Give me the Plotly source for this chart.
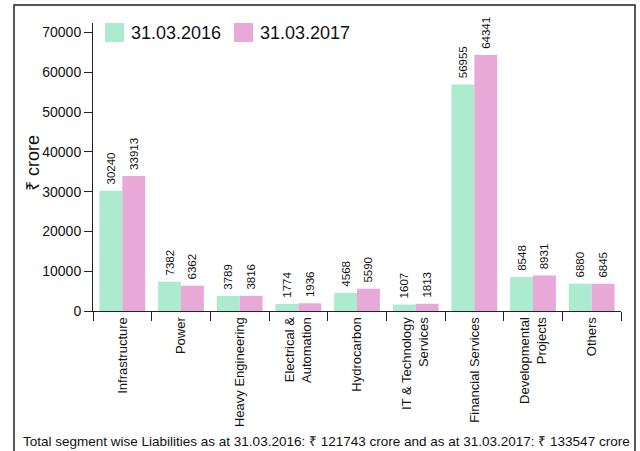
import plotly.graph_objects as go

categories = [
    "Infrastructure", "Power", "Heavy Engineering", "Electrical &<br>Automation",
    "Hydrocarbon", "IT & Technology<br>Services", "Financial Services",
    "Developmental<br>Projects", "Others",
]
values_2016 = [30240, 7382, 3789, 1774, 4568, 1607, 56955, 8548, 6880]
values_2017 = [33913, 6362, 3816, 1936, 5590, 1813, 64341, 8931, 6845]
series_names = ["31.03.2016", "31.03.2017"]
y_ticks = [0, 10000, 20000, 30000, 40000, 50000, 60000, 70000]
y_tick_labels = [str(v) for v in y_ticks]
y_title = "₹ crore"
caption = ("Total segment wise Liabilities as at 31.03.2016: ₹ 121743 crore "
           "and as at 31.03.2017: ₹ 133547 crore")

W, H = 640, 451
L, R, T, B = 93, 19, 23, 140
PW, PH = W - L - R, H - T - B

def px(x):
    return (x - L) / PW

def py(y):
    return (H - B - y) / PH

GREEN = "#ADEBD0"
PINK = "#E8A8D8"
REG = "Liberation Sans, Arial, sans-serif"
NAR = "Liberation Sans Narrow, Liberation Sans, Arial, sans-serif"

fig = go.Figure()
for name, vals, col in [(series_names[0], values_2016, GREEN), (series_names[1], values_2017, PINK)]:
    fig.add_trace(go.Bar(
        x=categories, y=vals, name=name, marker_color=col, marker_line_width=0,
        text=["\u00a0" + str(v) for v in vals], textposition="outside", textangle=-90,
        textfont=dict(family=NAR, size=11.5, color="#111"),
        constraintext="none", cliponaxis=False, showlegend=False,
    ))

shapes = [
    dict(type="rect", xref="paper", yref="paper", x0=px(14), x1=px(635), y0=py(470), y1=py(5),
         line=dict(color="#222", width=1.5), fillcolor="rgba(0,0,0,0)", layer="above"),
    dict(type="rect", xref="paper", yref="paper", x0=px(105), x1=px(124), y0=py(42), y1=py(23),
         line_width=0, fillcolor=GREEN),
    dict(type="rect", xref="paper", yref="paper", x0=px(234), x1=px(253), y0=py(42), y1=py(23),
         line_width=0, fillcolor=PINK),
]
annotations = [
    dict(text=series_names[0], xref="paper", yref="paper", x=px(129), y=py(32.5),
         xanchor="left", yanchor="middle", showarrow=False,
         font=dict(family=REG, size=18, color="#111")),
    dict(text=series_names[1], xref="paper", yref="paper", x=px(258), y=py(32.5),
         xanchor="left", yanchor="middle", showarrow=False,
         font=dict(family=REG, size=18, color="#111")),
    dict(text=y_title, xref="paper", yref="paper", x=px(33), y=py(163), textangle=-90,
         xanchor="center", yanchor="middle", showarrow=False,
         font=dict(family=REG, size=18, color="#111")),
    dict(text=caption, xref="paper", yref="paper", x=px(326), y=py(441),
         xanchor="center", yanchor="middle", showarrow=False,
         font=dict(family=NAR, size=13.5, color="#111")),
]

fig.update_layout(
    width=W, height=H, margin=dict(l=L, r=R, t=T, b=B, autoexpand=False),
    paper_bgcolor="white", plot_bgcolor="white",
    barmode="group", bargap=0.22, bargroupgap=0,
    shapes=shapes, annotations=annotations, showlegend=False,
    xaxis=dict(
        type="category", tickson="boundaries", ticks="outside", ticklen=9,
        tickcolor="#222", showline=True, linecolor="#222", linewidth=1,
        tickangle=-90, tickfont=dict(family=NAR, size=13, color="#111"),
        showgrid=False, automargin=False,
    ),
    yaxis=dict(
        range=[0, 72400], tickvals=y_ticks, ticktext=y_tick_labels,
        ticks="outside", ticklen=8,
        tickcolor="#222", showline=True, linecolor="#222", linewidth=1,
        tickfont=dict(family=REG, size=14, color="#111"), showgrid=False,
        zeroline=False, automargin=False,
    ),
)

fig.write_html(
    "out.html",
    config={"displayModeBar": False},
    post_script="document.body.style.margin='0';document.body.style.overflow='hidden';",
)
